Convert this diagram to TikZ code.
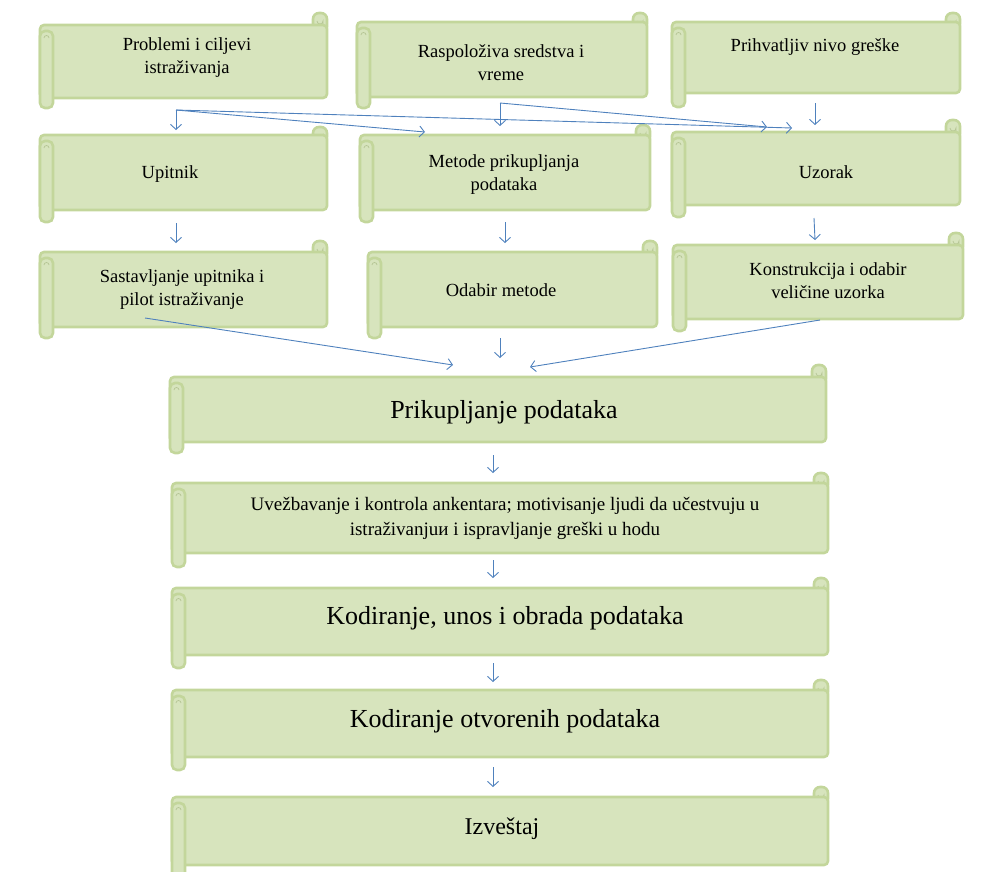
\documentclass[tikz,border=0pt]{standalone}
\usepackage{fontspec}
\setmainfont{Liberation Serif}
\usetikzlibrary{arrows.meta,backgrounds,calc}
\definecolor{scrollfill}{HTML}{D7E4BD}
\definecolor{scrollborder}{HTML}{C3D69B}
\definecolor{arrowblue}{HTML}{4F81BD}
\tikzset{
  scrollbody/.style={draw=scrollborder,fill=scrollfill,line width=2.6pt,rounded corners=4pt,inner sep=0pt,outer sep=0pt},
  scrollline/.style={draw=scrollborder,fill=scrollfill,line width=2.6pt},
  curlmark/.style={draw=scrollborder!80!gray,line width=0.7pt},
  arr/.style={draw=arrowblue,line width=0.9pt,-{Straight Barb[length=5pt,width=11pt,line width=0.9pt]}},
  lbl/.style={align=center,inner sep=0pt,text=black},
  small/.style={lbl,font=\fontsize{18.5}{23}\selectfont},
  mid/.style={lbl,font=\fontsize{19}{25}\selectfont},
  big/.style={lbl,font=\fontsize{26}{30}\selectfont},
}
\newcommand\scrollbox[7]{%
  \begin{scope}[on background layer]
    \draw[scrollline,rounded corners=6pt] ({#4-14},{#3+8}) rectangle (#4,#7);
    \draw[curlmark] ({#4-10},{#7+8}) arc[start angle=180,end angle=360,x radius=3,y radius=-3] -- ({#4-4},{#7+11});
  \end{scope}
  \node[scrollbody,minimum width={(#4-#2)*1pt},minimum height={(#5-#3)*1pt}] (#1) at ({(#2+#4)/2},{(#3+#5)/2}) {};
  \draw[scrollline,rounded corners=5pt] (#2,{#3+6}) rectangle ({#2+13},#6);
  \draw[curlmark] ({#2+4},{#3+13}) arc[start angle=180,end angle=0,x radius=2.5,y radius=-2.5];
}
\begin{document}
\begin{tikzpicture}[x=1pt,y=-1pt]
\useasboundingbox (0,0) rectangle (1000,871);
\begin{scope}
\clip (0,0) rectangle (1000,871);
\scrollbox{prob}{40}{25}{327}{98}{108}{13}
\scrollbox{rasp}{357}{22}{647}{97}{108}{13}
\scrollbox{prih}{672}{22}{960}{93}{107}{13}
\scrollbox{upit}{40}{135}{327}{210}{222}{127}
\scrollbox{meto}{360}{135}{650}{210}{222}{125}
\scrollbox{uzor}{672}{132}{960}{205}{217}{120}
\scrollbox{sast}{40}{252}{327}{327}{338}{241}
\scrollbox{odab}{368}{252}{657}{327}{338}{241}
\scrollbox{kons}{673}{245}{963}{319}{331}{233}
\scrollbox{prik}{170}{377}{826}{442}{453}{365}
\scrollbox{uvez}{172}{483}{828}{553}{567}{473}
\scrollbox{kodA}{172}{588}{828}{655}{668}{578}
\scrollbox{kodB}{172}{690}{828}{757}{770}{680}
\scrollbox{izv}{172}{797}{828}{865}{880}{787}
\end{scope}

% texts
\node[small] (tprob) at (187,58) {Problemi i ciljevi\\istraživanja};
\node[small] (trasp) at (501,63) {Raspoloživa sredstva i\\vreme};
\node[small] (tprih) at (815,47) {Prihvatljiv nivo greške};
\node[small] (tupit) at (170,174) {Upitnik};
\node[small] (tmeto) at (504,175) {Metode prikupljanja\\podataka};
\node[small] (tuzor) at (826,172) {Uzorak};
\node[small] (tsast) at (182,290) {Sastavljanje upitnika i\\pilot istraživanje};
\node[small] (todab) at (501,290) {Odabir metode};
\node[small] (tkons) at (828,281) {Konstrukcija i odabir\\veličine uzorka};
\node[big] (tprik) at (504,412) {Prikupljanje podataka};
\node[mid] (tuvez) at (505,518) {Uvežbavanje i kontrola ankentara; motivisanje ljudi da učestvuju u\\istraživanjuи i ispravljanje greški u hodu};
\node[big] (tkodA) at (505,618) {Kodiranje, unos i obrada podataka};
\node[big] (tkodB) at (505,721) {Kodiranje otvorenih podataka};
\node[big,font=\fontsize{24}{28}\selectfont] (tizv) at (502,829) {Izveštaj};

% connectors
\coordinate (pA) at (176,110);
\coordinate (pB) at (500,103);
\draw[arr] (pA) -- ([shift={(136,-5)}]upit.north west);
\draw[arr] (pA) -- ([shift={(65,-3)}]meto.north west);
\draw[arr] (pA) -- ([shift={(120,-4)}]uzor.north west);
\draw[arr] (pB) -- ([shift={(140,-9)}]meto.north west);
\draw[arr] (pB) -- ([shift={(95,-5)}]uzor.north west);
\draw[arr] ([shift={(143,10)}]prih.south west) -- ([shift={(143,-7)}]uzor.north west);
\draw[arr] ([shift={(136,13)}]upit.south west) -- ([shift={(136,-9)}]sast.north west);
\draw[arr] ([shift={(145,12)}]meto.south west) -- ([shift={(137,-9)}]odab.north west);
\draw[arr] ([shift={(142,13)}]uzor.south west) -- ([shift={(142,-5)}]kons.north west);
\draw[arr] ([shift={(105,-9)}]sast.south west) -- ([shift={(283,-12)}]prik.north west);
\draw[arr] ([shift={(132,11)}]odab.south west) -- ([shift={(330,-19)}]prik.north west);
\draw[arr] ([shift={(147,1)}]kons.south west) -- ([shift={(360,-10)}]prik.north west);
\draw[arr] ([shift={(323,13)}]prik.south west) -- ([shift={(321,-10)}]uvez.north west);
\draw[arr] ([shift={(321,7)}]uvez.south west) -- ([shift={(321,-10)}]kodA.north west);
\draw[arr] ([shift={(321,8)}]kodA.south west) -- ([shift={(321,-8)}]kodB.north west);
\draw[arr] ([shift={(321,10)}]kodB.south west) -- ([shift={(321,-10)}]izv.north west);
\end{tikzpicture}
\end{document}
